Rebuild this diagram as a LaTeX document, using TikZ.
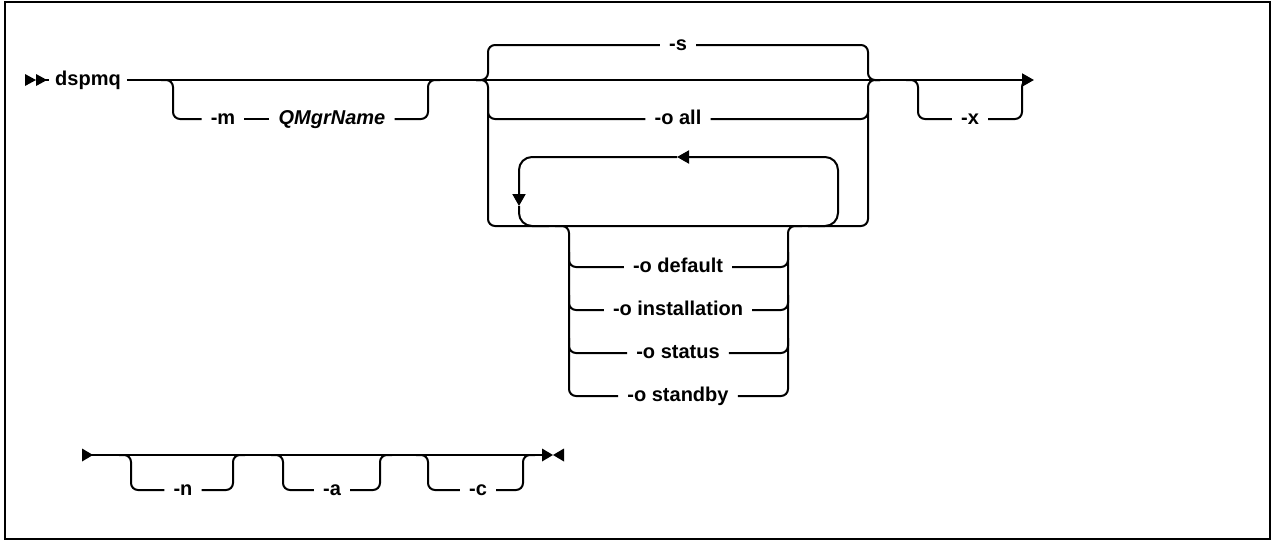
\documentclass[tikz,border=0pt]{standalone}
\usepackage{fontspec}
\setmainfont{Liberation Sans}
\usetikzlibrary{arrows.meta,calc}
\begin{document}
\begin{tikzpicture}[x=1pt,y=-1pt,
  ln/.style={line width=2pt, rounded corners=7pt},
  lp/.style={line width=2pt, rounded corners=13pt},
  lbl/.style={font=\fontsize{20}{23}\selectfont\bfseries, anchor=mid, inner xsep=9pt, inner ysep=0pt,
    execute at begin node={\lower2.5pt\hbox\bgroup}, execute at end node={\egroup}},
  tip/.style={-{Triangle[length=12pt,width=13pt]}}]
\useasboundingbox (0,0) rectangle (1275,541);
\draw[line width=2.5pt] (5,2) rectangle (1270,539);

% labels
\node[lbl, inner xsep=6pt] (dspmq) at (88,80) {dspmq};
\node[lbl] (m) at (223,119) {-m};
\node[lbl] (qm) at (332,119) {\itshape QMgrName};
\node[lbl] (s) at (678,45) {-s};
\node[lbl] (oall) at (678,119) {-o all};
\node[lbl] (odef) at (678,267) {-o default};
\node[lbl] (oins) at (678,310) {-o installation};
\node[lbl] (osta) at (678,353) {-o status};
\node[lbl] (osby) at (678,396) {-o standby};
\node[lbl] (x) at (970,119) {-x};
\node[lbl] (n) at (183,490) {-n};
\node[lbl] (a) at (332,490) {-a};
\node[lbl] (c) at (478,490) {-c};

% coordinates
\coordinate (st) at (25,80);
\coordinate (mainend) at (1034,80);
\coordinate (mL) at (173,80);  \coordinate (mR) at (428,80);
\coordinate (gL) at (488,80);  \coordinate (gR) at (868,80);
\coordinate (gBL) at (488,226);\coordinate (gBR) at (868,226);
\coordinate (lpTL) at (519,157); \coordinate (lpTR) at (838,157);
\coordinate (lpBL) at (519,226); \coordinate (lpBR) at (838,226);
\coordinate (lpA) at (677,157); \coordinate (lpD) at (519,206);
\coordinate (sL) at (569,226); \coordinate (sR) at (788,226);
\coordinate (xL) at (918,80);  \coordinate (xR) at (1022,80);
\coordinate (bst) at (93,455); \coordinate (bend) at (553,455);
\coordinate (nL) at (131,455); \coordinate (nR) at (233,455);
\coordinate (aL) at (283,455); \coordinate (aR) at (380,455);
\coordinate (cL) at (428,455); \coordinate (cR) at (523,455);

% start double arrow
\fill ([yshift=6pt]st) -- ([xshift=11pt]st) -- ([yshift=-6pt]st) -- cycle;
\fill ([xshift=11pt,yshift=6pt]st) -- ([xshift=22pt]st) -- ([xshift=11pt,yshift=-6pt]st) -- cycle;
\draw[ln] ([xshift=18pt]st) -- (dspmq.mid west);

% main line
\draw[ln, tip] (dspmq.mid east) -- (mainend);

% -m QMgrName
\draw[ln] ([xshift=-12pt]mL) -- (mL) -- (mL |- m.mid) -- (m.mid west);
\draw[ln] (m.mid east) -- (qm.mid west);
\draw[ln] (qm.mid east) -- (mR |- qm.mid) -- (mR) -- ([xshift=12pt]mR);

% group -s / -o all / loop
\draw[ln] ([xshift=-12pt]gL) -- (gL) -- (gL |- s.mid) -- (s.mid west);
\draw[ln] (s.mid east) -- (gR |- s.mid) -- (gR) -- ([xshift=12pt]gR);
\draw[ln] ([xshift=-12pt]gL) -- (gL) -- (gBL) -- (gBR) -- (gR) -- ([xshift=12pt]gR);
\draw[ln] ([yshift=-20pt]gL) -- (gL |- oall.mid) -- (oall.mid west);
\draw[ln] (oall.mid east) -- (gR |- oall.mid) -- ([yshift=-20pt]gR);

\draw[lp, tip] ([xshift=-30pt]lpBR) -- (lpBR) -- (lpTR) -- (lpA);
\draw[lp, tip] (lpA) -- (lpTL) -- (lpD);
\draw[lp] (lpD) -- (lpBL) -- ([xshift=30pt]lpBL);

% sub choices
\draw[ln] ([xshift=-14pt]sL) -- (sL) -- (sL |- osby.mid) -- (osby.mid west);
\draw[ln] (osby.mid east) -- (sR |- osby.mid) -- (sR) -- ([xshift=14pt]sR);
\foreach \o in {odef,oins,osta} {
  \draw[ln] ($(sL |- \o.mid)+(0,-15)$) -- (sL |- \o.mid) -- (\o.mid west);
  \draw[ln] (\o.mid east) -- (sR |- \o.mid) -- ($(sR |- \o.mid)+(0,-15)$);
}

% -x
\draw[ln] ([xshift=-12pt]xL) -- (xL) -- (xL |- x.mid) -- (x.mid west);
\draw[ln] (x.mid east) -- (xR |- x.mid) -- (xR) -- ([xshift=8pt]xR);

% bottom row
\fill ([xshift=-11pt,yshift=6.5pt]bst) -- (bst) -- ([xshift=-11pt,yshift=-6.5pt]bst) -- cycle;
\draw[ln] ([xshift=-10pt]bst) -- ([xshift=-10pt]bend);
\fill ([xshift=-11pt,yshift=6.5pt]bend) -- (bend) -- ([xshift=-11pt,yshift=-6.5pt]bend) -- cycle;
\fill ([xshift=11pt,yshift=6.5pt]bend) -- (bend) -- ([xshift=11pt,yshift=-6.5pt]bend) -- cycle;
\foreach \L/\R/\t in {nL/nR/n, aL/aR/a, cL/cR/c} {
  \draw[ln] ([xshift=-12pt]\L) -- (\L) -- (\L |- \t.mid) -- (\t.mid west);
  \draw[ln] (\t.mid east) -- (\R |- \t.mid) -- (\R) -- ([xshift=12pt]\R);
}
\end{tikzpicture}
\end{document}
